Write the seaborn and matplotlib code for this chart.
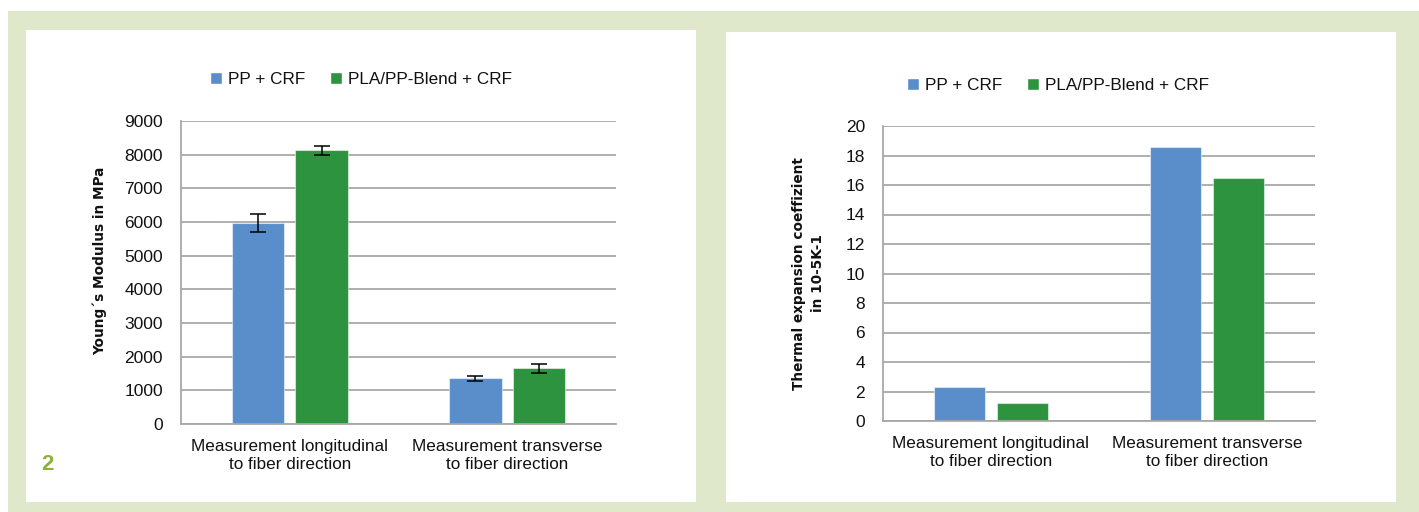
import matplotlib
matplotlib.use('Agg')
import matplotlib.pyplot as plt
from matplotlib.patches import Rectangle, Patch
import pandas as pd
import seaborn as sns

# values
directions = ['Measurement longitudinal\nto fiber direction',
              'Measurement transverse\nto fiber direction']
materials = ['PP + CRF', 'PLA/PP-Blend + CRF']

modulus_pp = [5980, 1360]
modulus_blend = [8130, 1655]
modulus_err_pp = [270, 75]
modulus_err_blend = [130, 130]

expansion_pp = [2.33, 18.55]
expansion_blend = [1.24, 16.45]

modulus_ticks = list(range(0, 9001, 1000))
expansion_ticks = list(range(0, 21, 2))

BLUE = '#5a8eca'
GREEN = '#2e933e'
GRID = '#a8a8a8'
BG_GREEN = '#e0e8cc'
W, H = 1419, 512


def long_df(pp, blend):
    return pd.DataFrame({
        'direction': directions * 2,
        'material': [materials[0]] * 2 + [materials[1]] * 2,
        'value': list(pp) + list(blend),
    })


def style_axis(ax, ticks):
    ax.set_ylim(ticks[0], ticks[-1])
    ax.set_yticks(ticks)
    ax.set_xlim(-0.5, 1.5)
    ax.set_xticks([-0.5, 0.5, 1.5], minor=True)
    ax.yaxis.grid(True, color=GRID, lw=1.3)
    ax.set_axisbelow(True)
    for s in ['top', 'right']:
        ax.spines[s].set_visible(False)
    for s in ['left', 'bottom']:
        ax.spines[s].set_color(GRID)
        ax.spines[s].set_linewidth(1.3)
    ax.tick_params(axis='y', length=5, width=1.3, color=GRID, pad=8,
                   labelsize=12.5, labelcolor='#111111')
    ax.tick_params(axis='x', which='major', length=0, pad=11,
                   labelsize=12.3, labelcolor='#111111')
    ax.tick_params(axis='x', which='minor', length=6, width=1.3, color=GRID)
    for lbl in ax.get_xticklabels():
        lbl.set_linespacing(1.25)
    ax.set_xlabel('')


sns.set_theme(style='white')
plt.rcParams['font.family'] = ['Liberation Sans', 'DejaVu Sans']

fig = plt.figure(figsize=(W / 100, H / 100), dpi=100)
fig.patch.set_facecolor('white')

# background frames
fig.add_artist(Rectangle((8 / W, 0), 1 - 8 / W, 1 - 11 / H, transform=fig.transFigure,
                         facecolor=BG_GREEN, edgecolor='none', zorder=-3))
fig.add_artist(Rectangle((26 / W, 1 - 502 / H), 670 / W, 472 / H, transform=fig.transFigure,
                         facecolor='white', edgecolor='none', zorder=-2))
fig.add_artist(Rectangle((726 / W, 1 - 502 / H), 670 / W, 470 / H, transform=fig.transFigure,
                         facecolor='white', edgecolor='none', zorder=-2))

ax1 = fig.add_axes([181 / W, 1 - 424 / H, 435 / W, 303 / H])
ax2 = fig.add_axes([883 / W, 1 - 421 / H, 432 / W, 295 / H])
ax1.set_facecolor('none')
ax2.set_facecolor('none')

bar_kw = dict(x='direction', y='value', hue='material', hue_order=materials,
              palette=[BLUE, GREEN], saturation=1, width=0.585, gap=0.18,
              legend=False, edgecolor='#ffffff80', linewidth=0.8)

# left: Young's modulus with error bars
sns.barplot(data=long_df(modulus_pp, modulus_blend), ax=ax1, **bar_kw)
for cont, errs in zip(ax1.containers, [modulus_err_pp, modulus_err_blend]):
    xs = [b.get_x() + b.get_width() / 2 for b in cont]
    ys = [b.get_height() for b in cont]
    ax1.errorbar(xs, ys, yerr=errs, fmt='none', ecolor='black',
                 elinewidth=1.1, capsize=5.5, capthick=1.1, zorder=5)
style_axis(ax1, modulus_ticks)
ax1.set_ylabel('Young´s Modulus in MPa', fontsize=9.8, fontweight='bold',
               family='DejaVu Sans', va='center', color='#111111')
ax1.yaxis.set_label_coords(-0.186, 0.538)

# right: thermal expansion
sns.barplot(data=long_df(expansion_pp, expansion_blend), ax=ax2, **bar_kw)
style_axis(ax2, expansion_ticks)
ax2.set_ylabel('Thermal expansion coeffizient\nin 10-5K-1', fontsize=9.8,
               fontweight='bold', family='DejaVu Sans', va='center',
               linespacing=1.45, color='#111111')
ax2.yaxis.set_label_coords(-0.172, 0.5)

handles = [Patch(facecolor=BLUE), Patch(facecolor=GREEN)]
for cx, cy in [(361, 79), (1058, 85)]:
    fig.legend(handles, materials, loc='center', bbox_to_anchor=(cx / W, 1 - cy / H),
               ncol=2, frameon=False, fontsize=12.3, handlelength=0.7,
               handleheight=0.7, handletextpad=0.35, columnspacing=1.5,
               labelcolor='#111111')

fig.text(47 / W, 1 - 465 / H, '2', color='#8cb13c', fontsize=16, fontweight='bold',
         ha='center', va='center')

fig.savefig('out.png', dpi=100)
